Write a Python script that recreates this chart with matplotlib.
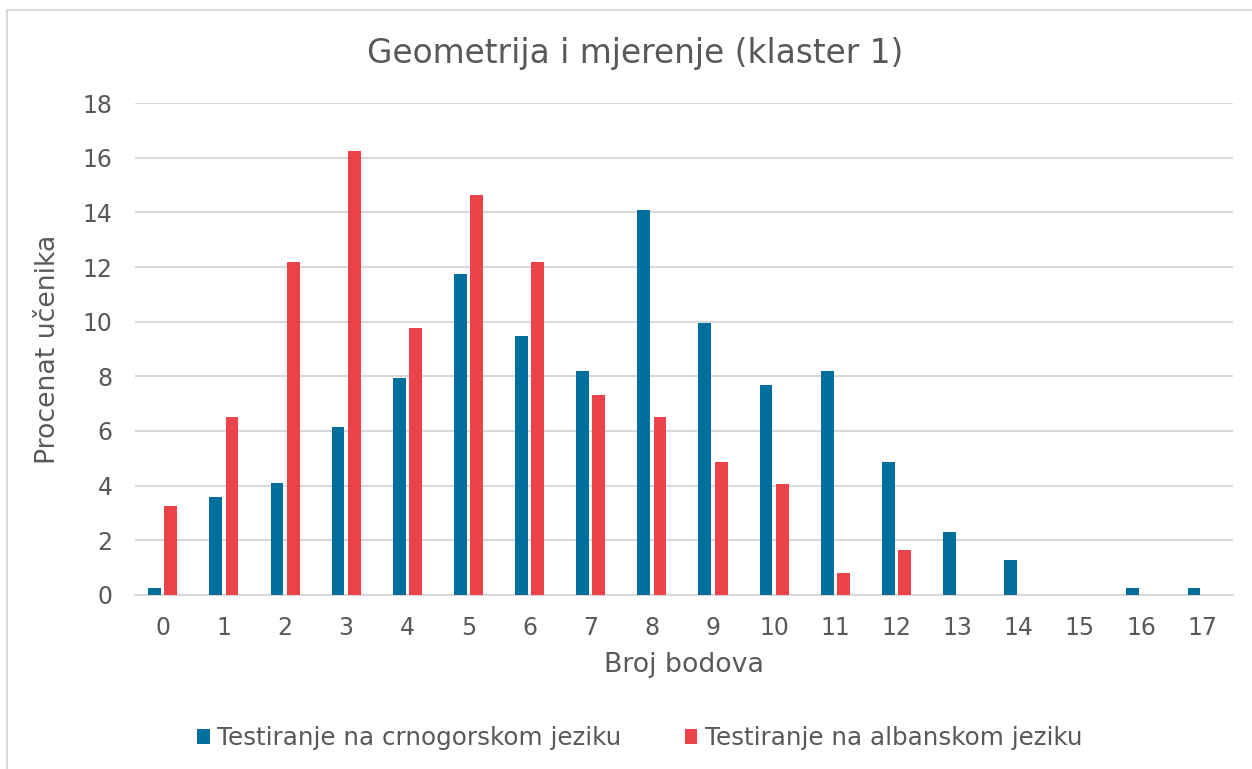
import matplotlib.pyplot as plt
import numpy as np
from matplotlib.patches import Rectangle

# ===== podaci =====
bodovi = list(range(18))
crnogorski = [0.26, 3.58, 4.09, 6.14, 7.93, 11.76, 9.46, 8.18, 14.07,
              9.97, 7.67, 8.18, 4.86, 2.30, 1.28, 0.0, 0.26, 0.26]
albanski = [3.25, 6.50, 12.20, 16.26, 9.76, 14.63, 12.20, 7.32, 6.50,
            4.88, 4.07, 0.81, 1.63, 0.0, 0.0, 0.0, 0.0, 0.0]

naslov = "Geometrija i mjerenje (klaster 1)"
x_naziv = "Broj bodova"
y_naziv = "Procenat učenika"
legenda = ["Testiranje na crnogorskom jeziku", "Testiranje na albanskom jeziku"]

PLAVA = "#006f9b"
CRVENA = "#ee424a"
SIVA = "#595959"

plt.rcParams["font.family"] = ["DejaVu Sans"]

fig = plt.figure(figsize=(12.52, 7.69), dpi=100)
ax = fig.add_axes([0.1078, 0.2263, 0.8770, 0.6397])

x = np.arange(len(bodovi))
w = 0.21
ax.bar(x - 0.133, crnogorski, w, color=PLAVA, label=legenda[0], zorder=3)
ax.bar(x + 0.133, albanski, w, color=CRVENA, label=legenda[1], zorder=3)

ax.set_xlim(-0.455, 17.505)
ax.set_ylim(0, 18)
ax.set_yticks(range(0, 19, 2))
ax.set_xticks(x)
ax.set_xticklabels([str(b) for b in bodovi])
ax.tick_params(length=0, labelsize=17, colors=SIVA)
ax.tick_params(axis="x", pad=15)
ax.tick_params(axis="y", pad=16)
ax.grid(axis="y", color="#d9d9d9", linewidth=1.5, zorder=0)
for s in ["top", "right", "left"]:
    ax.spines[s].set_visible(False)
ax.spines["bottom"].set_color("#d9d9d9")
ax.spines["bottom"].set_linewidth(1.5)

ax.set_xlabel(x_naziv, fontsize=19.3, color=SIVA, labelpad=9)
ax.set_ylabel(y_naziv, fontsize=19.3, color=SIVA, labelpad=16)
fig.text(0.507, 0.93, naslov, fontsize=23.6, color=SIVA, ha="center", va="center")

leg = fig.legend(loc="center", bbox_to_anchor=(0.511, 0.040), ncol=2, frameon=False,
                 fontsize=17.7, handlelength=0.5, handleheight=0.6, handletextpad=0.3,
                 columnspacing=2.6)
for t in leg.get_texts():
    t.set_color(SIVA)

# okvir grafikona
fig.patches.append(Rectangle((7 / 1252, -0.05), 1.1, 1 - 10 / 769 + 0.05,
                             transform=fig.transFigure, fill=False,
                             edgecolor="#d9d9d9", linewidth=1.5))

fig.savefig("out.png", dpi=100)
